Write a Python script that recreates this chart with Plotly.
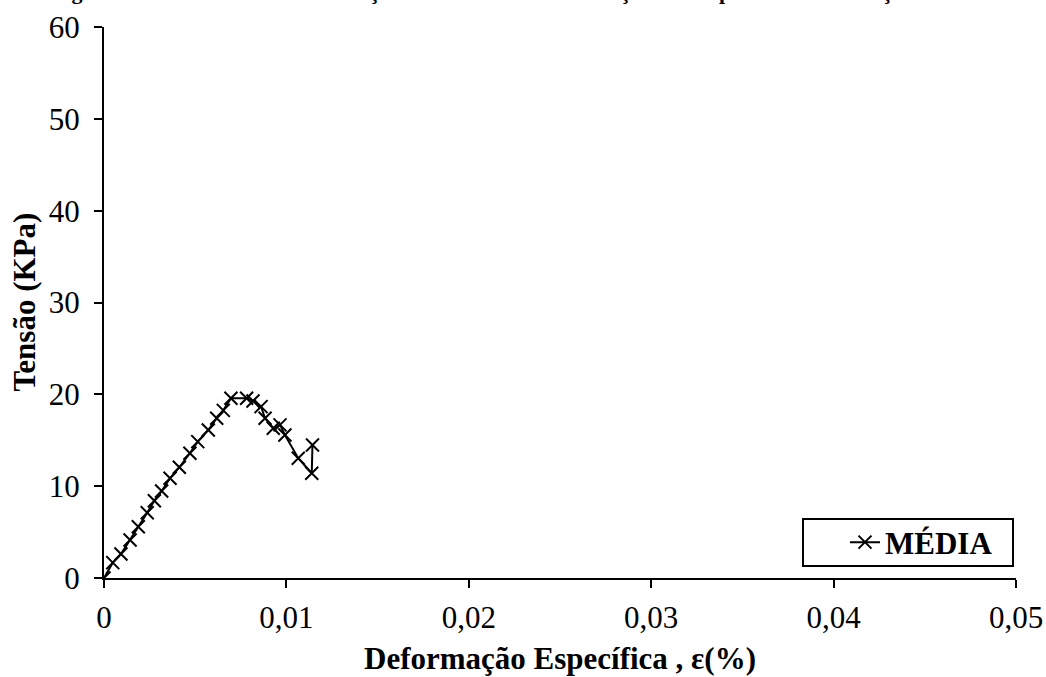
import plotly.graph_objects as go

# Data
strain = [0.0, 0.00048, 0.00093, 0.00143, 0.00188, 0.00237, 0.00276, 0.00316, 0.00362,
          0.00413, 0.00471, 0.00514, 0.00572, 0.00618, 0.00654, 0.00696, 0.00782,
          0.00817, 0.00861, 0.00883, 0.00928, 0.00965, 0.00992, 0.01065, 0.01139, 0.01143]
stress = [0.0, 1.67, 2.61, 4.14, 5.59, 7.11, 8.42, 9.48, 10.86,
          12.06, 13.58, 14.85, 16.12, 17.40, 18.25, 19.58, 19.58,
          19.28, 18.66, 17.40, 16.31, 16.67, 15.58, 13.04, 11.41, 14.49]
series_name = "MÉDIA"

x_tickvals = [0, 0.01, 0.02, 0.03, 0.04, 0.05]
x_ticktext = ["0", "0,01", "0,02", "0,03", "0,04", "0,05"]
y_tickvals = [0, 10, 20, 30, 40, 50, 60]

x_title = "Deformação Específica , ε(%)"
y_title = "Tensão (KPa)"
fig_title = "Figura 5.4 Curva Tensão deformação obtida do ensaio de tração direta para solo sem adição"

FONT = "Liberation Serif, Times New Roman, serif"

W, H = 1046, 677
ML, MR, MT, MB = 104, 30, 27, 99
PW, PH = W - ML - MR, H - MT - MB


def px_x(px):
    return (px - ML) / PW


def px_y(py):
    return (H - MB - py) / PH


fig = go.Figure()
fig.add_trace(go.Scatter(
    x=strain, y=stress, mode="lines+markers", name="<b>" + series_name + "</b>",
    line=dict(color="black", width=2),
    marker=dict(symbol="x-thin", size=13, line=dict(color="black", width=2), color="black"),
))

fig.update_layout(
    width=W, height=H,
    paper_bgcolor="white", plot_bgcolor="white",
    margin=dict(l=ML, r=MR, t=MT, b=MB, autoexpand=False),
    font=dict(family=FONT, size=31, color="black"),
    showlegend=True,
    legend=dict(
        x=px_x(845), y=px_y(542.5), xanchor="left", yanchor="middle",
        borderwidth=0, bgcolor="rgba(0,0,0,0)",
        font=dict(family=FONT, size=31, color="black"),
    ),
    shapes=[
        dict(type="rect", xref="paper", yref="paper",
             x0=px_x(803), x1=px_x(1013), y0=px_y(566), y1=px_y(519),
             line=dict(color="black", width=2), fillcolor="rgba(0,0,0,0)", layer="above"),
    ],
    xaxis=dict(
        range=[0, 0.05], tickvals=x_tickvals, ticktext=x_ticktext,
        showline=True, linecolor="black", linewidth=2,
        ticks="outside", ticklen=8, tickwidth=2, tickcolor="black",
        showgrid=False, zeroline=False, ticklabelstandoff=3, automargin=False,
        tickfont=dict(family=FONT, size=31, color="black"),
    ),
    yaxis=dict(
        range=[0, 60], tickvals=y_tickvals,
        showline=True, linecolor="black", linewidth=2,
        ticks="outside", ticklen=8, tickwidth=2, tickcolor="black",
        showgrid=False, zeroline=False, ticklabelstandoff=8, automargin=False,
        tickfont=dict(family=FONT, size=31, color="black"),
    ),
    annotations=[
        dict(text="<b>" + x_title + "</b>", xref="paper", yref="paper",
             x=0.5, y=px_y(658), xanchor="center", yanchor="middle", showarrow=False,
             font=dict(family=FONT, size=31, color="black")),
        dict(text="<b>" + y_title + "</b>", xref="paper", yref="paper",
             x=px_x(24), y=0.5, xanchor="center", yanchor="middle", showarrow=False,
             textangle=-90, font=dict(family=FONT, size=31, color="black")),
        dict(text="<b>" + fig_title + "</b>", xref="paper", yref="paper",
             x=px_x(50), y=px_y(6), xanchor="left", yanchor="bottom", showarrow=False,
             font=dict(family=FONT, size=22, color="black")),
    ],
)

fig.write_html(
    "out.html",
    config={"displayModeBar": False},
    post_script="document.body.style.margin='0';document.body.style.overflow='hidden';",
)
